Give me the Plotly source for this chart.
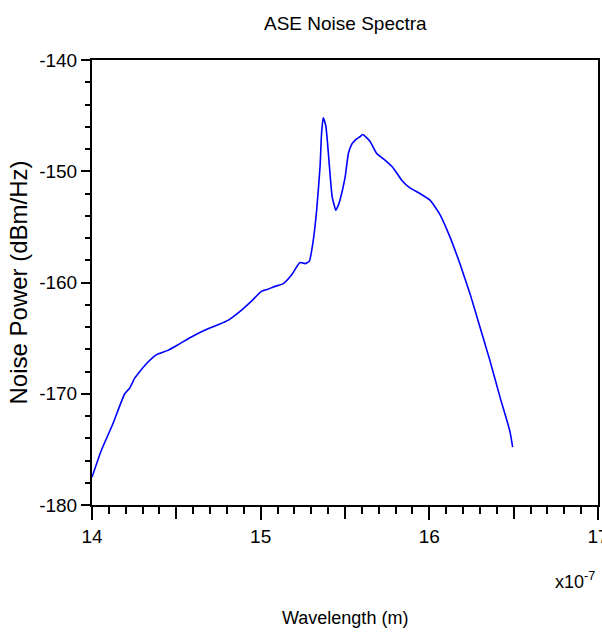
import plotly.graph_objects as go

# Wavelength in units of 1e-7 m, noise power in dBm/Hz
wavelength = [14.0, 14.055, 14.124, 14.194, 14.223, 14.253, 14.273, 14.322, 14.381, 14.45,
              14.51, 14.589, 14.668, 14.747, 14.806, 14.885, 14.944, 15.004, 15.043, 15.075,
              15.134, 15.184, 15.233, 15.263, 15.288, 15.312, 15.332, 15.352, 15.361, 15.371,
              15.379, 15.387, 15.395, 15.411, 15.424, 15.446, 15.459, 15.47, 15.50, 15.52,
              15.539, 15.549, 15.569, 15.589, 15.605, 15.648, 15.688, 15.737, 15.786, 15.836,
              15.885, 15.944, 16.004, 16.063, 16.122, 16.181, 16.241, 16.30, 16.359, 16.419,
              16.478, 16.494]
noise_power = [-177.5, -175.1, -172.7, -170.0, -169.5, -168.6, -168.2, -167.3, -166.5, -166.1,
               -165.6, -164.9, -164.3, -163.8, -163.4, -162.5, -161.7, -160.8, -160.6, -160.4,
               -160.1, -159.3, -158.2, -158.3, -158.1, -156.2, -153.5, -149.6, -146.6, -145.2,
               -145.5, -146.0, -147.2, -150.2, -152.3, -153.5, -153.1, -152.6, -150.6, -148.4,
               -147.6, -147.4, -147.1, -146.9, -146.7, -147.3, -148.4, -149.0, -149.7, -150.8,
               -151.5, -152.0, -152.6, -153.9, -155.9, -158.3, -161.0, -164.0, -167.0, -170.3,
               -173.4, -174.8]

x_major = [14, 15, 16, 17]
x_major_text = ["14", "15", "16", "17"]
x_half = [14.5, 15.5, 16.5]
y_tickvals = [-180, -170, -160, -150, -140]
y_ticktext = ["-180", "-170", "-160", "-150", "-140"]

FONT = "Arial, Liberation Sans, sans-serif"

fig = go.Figure()
fig.add_trace(go.Scatter(x=wavelength, y=noise_power, mode="lines",
                         line=dict(color="#0000ff", width=1.6, shape="spline", smoothing=0.5),
                         showlegend=False))
# empty trace to carry the overlay axis with half-unit ticks
fig.add_trace(go.Scatter(x=[None], y=[None], xaxis="x2", yaxis="y", mode="lines",
                         showlegend=False, hoverinfo="skip"))

fig.update_layout(
    width=602, height=634,
    margin=dict(l=92, r=4, t=60, b=129),
    paper_bgcolor="white", plot_bgcolor="white",
    font=dict(family=FONT, size=19, color="black"),
    xaxis=dict(
        range=[14, 17], showgrid=False, zeroline=False, automargin=False,
        tickmode="array", tickvals=x_major, ticktext=x_major_text,
        ticks="outside", ticklen=13, tickwidth=2, tickcolor="black",
        minor=dict(dtick=0.1, ticks="outside", ticklen=7, tickwidth=2,
                   tickcolor="black", showgrid=False),
        showline=True, linewidth=2, linecolor="black", mirror=True,
        tickfont=dict(family=FONT, size=19), ticklabeloverflow="allow",
    ),
    xaxis2=dict(
        range=[14, 17], overlaying="x", side="bottom", anchor="y", automargin=False,
        showgrid=False, zeroline=False, showline=False, showticklabels=False,
        tickmode="array", tickvals=x_half,
        ticks="outside", ticklen=13, tickwidth=2, tickcolor="black",
    ),
    yaxis=dict(
        range=[-180, -140], showgrid=False, zeroline=False, automargin=False,
        tickmode="array", tickvals=y_tickvals, ticktext=y_ticktext,
        ticks="outside", ticklen=9, tickwidth=2, tickcolor="black",
        minor=dict(dtick=2, ticks="outside", ticklen=5, tickwidth=2,
                   tickcolor="black", showgrid=False),
        showline=True, linewidth=2, linecolor="black", mirror=True,
        tickfont=dict(family=FONT, size=19),
    ),
)

fig.add_annotation(text="ASE Noise Spectra", xref="paper", yref="paper", x=0.5, y=1,
                   yshift=37, showarrow=False, xanchor="center", yanchor="middle",
                   font=dict(family=FONT, size=19))
fig.add_annotation(text="Wavelength (m)", xref="paper", yref="paper", x=0.5, y=0,
                   yshift=-113, showarrow=False, xanchor="center", yanchor="middle",
                   font=dict(family=FONT, size=18))
fig.add_annotation(text="x10<sup>-7</sup>", xref="paper", yref="paper", x=1, y=0,
                   xshift=-1, yshift=-75, showarrow=False, xanchor="right", yanchor="middle",
                   font=dict(family=FONT, size=18))
fig.add_annotation(text="Noise Power (dBm/Hz)", xref="paper", yref="paper", x=0, y=0.5,
                   xshift=-74, showarrow=False, xanchor="center", yanchor="middle",
                   textangle=-90, font=dict(family=FONT, size=24))

fig.write_html("out.html")
